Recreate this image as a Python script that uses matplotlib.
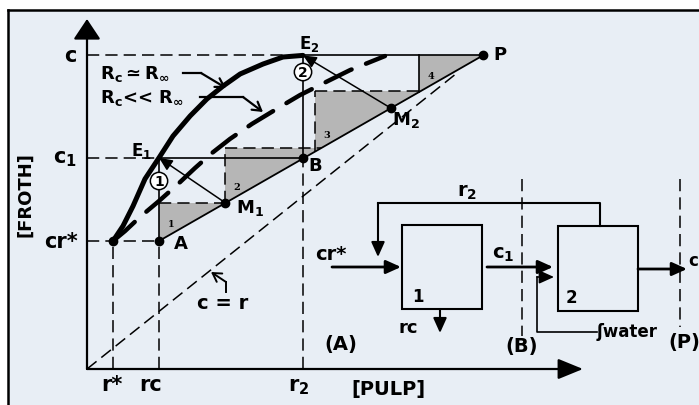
import numpy as np
import matplotlib.pyplot as plt
from matplotlib.patches import Polygon, Rectangle

plt.rcParams['font.family'] = ['DejaVu Sans']
plt.rcParams['font.weight'] = 'bold'
plt.rcParams['mathtext.fontset'] = 'dejavusans'

# concentrations: r = pulp (tailing side), c = froth (concentrate side)
r_star, r_c, r_2 = 0.065, 0.18, 0.54
c_rstar, c_1, c_top = 0.40, 0.66, 0.98

pt_start = (r_star, c_rstar)
pt_A = (r_c, c_rstar)
pt_B = (r_2, c_1)
pt_E1 = (r_c, c_1)
pt_E2 = (r_2, c_top)
pt_M1 = (0.345, 0.52)
pt_M2 = (0.76, 0.815)
pt_P = (0.99, c_top)

# equilibrium line for Rc ~ R_inf
eq_inf_r = [0.065, 0.09, 0.115, 0.145, 0.18, 0.215, 0.258, 0.30, 0.34, 0.383, 0.44, 0.49, 0.54]
eq_inf_c = [0.40, 0.447, 0.509, 0.594, 0.66, 0.728, 0.791, 0.844, 0.884, 0.922, 0.953, 0.975, 0.98]

# equilibrium line for Rc << R_inf
eq_low_r = [0.065, 0.095, 0.1325, 0.18, 0.2275, 0.27, 0.3125, 0.3575, 0.4125, 0.4825, 0.5325, 0.6025, 0.6575, 0.745]
eq_low_c = [0.40, 0.431, 0.475, 0.525, 0.578, 0.628, 0.675, 0.719, 0.766, 0.819, 0.856, 0.90, 0.934, 0.978]

# stages stepped off between the operating line and the lower curve
step_r = [0.18, 0.345, 0.57, 0.83]
step_top = [0.52, 0.69, 0.87, 0.98]
step_names = ['1', '2', '3', '4']

bg = '#e8eef5'
grey = '#b6b6b6'
dash = (0, (8, 4))
thin = 1.1

fig = plt.figure(figsize=(6.99, 4.06), dpi=100)

# --- page layer in pixel units: paper, frame, flowsheet, notes
ov = fig.add_axes([0, 0, 1, 1])
ov.set_xlim(0, 699)
ov.set_ylim(406, 0)
ov.axis('off')
ov.add_patch(Rectangle((8, 11), 691, 395, fc=bg, ec='none'))
ov.plot([8, 699], [11, 11], color='k', lw=1.8)
ov.plot([8, 8], [11, 406], color='k', lw=1.8)

def arrow(a, xy, xytext, style='-|>,head_length=1.0,head_width=0.45', lw=1.5, ms=9):
    a.annotate('', xy=xy, xytext=xytext, annotation_clip=False,
               arrowprops=dict(arrowstyle=style, color='k', lw=lw, mutation_scale=ms,
                               shrinkA=0, shrinkB=0))

# flotation cells
ov.add_patch(Rectangle((402, 226), 80, 84, fc='none', ec='k', lw=1.5))
ov.add_patch(Rectangle((558, 227), 80, 85, fc='none', ec='k', lw=1.5))
ov.text(418, 297, '1', fontsize=12, ha='center', va='center')
ov.text(571, 298, '2', fontsize=12, ha='center', va='center')

# recycle r2 back to cell 1
ov.plot([600, 600, 378], [227, 204, 204], color='k', lw=1.5)
arrow(ov, (378, 258), (378, 204))
ov.text(467, 192, r'$\mathbf{r_2}$', fontsize=14, ha='center', va='center')

# feed, transfer, tailing, water, product
arrow(ov, (401, 268), (332, 268), lw=2)
ov.text(331, 255, 'cr*', fontsize=14, ha='center', va='center')
arrow(ov, (553, 268), (487, 268), lw=2)
ov.text(503, 255, r'$\mathbf{c_1}$', fontsize=14, ha='center', va='center')
arrow(ov, (440, 334), (440, 310), lw=1.5)
ov.text(408, 328, 'rc', fontsize=13, ha='center', va='center')
ov.plot([597, 537, 537], [333, 333, 278], color='k', lw=1.2)
arrow(ov, (554, 278), (537, 278), lw=1.2)
ov.text(597, 332, 'ʃwater', fontsize=12, ha='left', va='center')
arrow(ov, (687, 270), (638, 270), lw=2)
ov.text(688, 261, 'c', fontsize=12, ha='left', va='center')

# section boundaries
ov.plot([522, 522], [180, 337], color='k', lw=thin, ls=dash)
ov.plot([680, 680], [180, 328], color='k', lw=thin, ls=dash)
ov.text(341, 345, '(A)', fontsize=14, ha='center', va='center')
ov.text(522, 347, '(B)', fontsize=14, ha='center', va='center')
ov.text(684, 343, '(P)', fontsize=14, ha='center', va='center')

# curve captions with leaders
ov.text(100, 74, r'$\mathbf{R_c \simeq R_\infty}$', fontsize=13, ha='left', va='center')
ov.plot([183, 201], [74, 74], color='k', lw=1.6)
arrow(ov, (226, 89), (201, 74), style='->,head_length=0.5,head_width=0.3', lw=1.6, ms=12)
ov.text(100, 98, r'$\mathbf{R_c}$<< $\mathbf{R_\infty}$', fontsize=13, ha='left', va='center')
ov.plot([200, 243], [98, 98], color='k', lw=1.6)
arrow(ov, (263, 113), (243, 98), style='->,head_length=0.5,head_width=0.3', lw=1.6, ms=12)

ov.text(223, 304, 'c = r', fontsize=14, ha='center', va='center')
ov.plot([226, 226], [293, 283], color='k', lw=1.4)
arrow(ov, (211, 273), (226, 283), style='->,head_length=0.5,head_width=0.3', lw=1.4, ms=12)

ov.text(25, 195, '[FROTH]', fontsize=13, rotation=90, ha='center', va='center')
ov.text(388, 390, '[PULP]', fontsize=14, ha='center', va='center')

# --- concentration diagram
ax = fig.add_axes([87 / 699, 36 / 406, 496 / 699, 350 / 406])
ax.set_xlim(0, 1.24)
ax.set_ylim(0, 350 / 320)
ax.axis('off')

arrow(ax, (1.24, 0), (0, 0), style='-|>,head_length=1.1,head_width=0.45', lw=1.6, ms=14)
arrow(ax, (0, 350 / 320), (0, 0), style='-|>,head_length=0.9,head_width=0.6', lw=1.6, ms=14)

# c = r diagonal
ax.plot([0, 0.93], [0, 0.93], color='k', lw=thin, ls=dash, clip_on=False)

# operating line A -> P
op_r = [pt_A[0], pt_P[0]]
op_c = [pt_A[1], pt_P[1]]

for i, (r0, top) in enumerate(zip(step_r, step_top)):
    bottom = np.interp(r0, op_r, op_c)
    r1 = np.interp(top, op_c, op_r)
    ax.add_patch(Polygon([(r0, bottom), (r0, top), (r1, top)], closed=True,
                         fc=grey, ec='none', zorder=1))
    if i in (1, 2):
        ax.plot([r0, r0], [bottom, top], color='k', lw=thin, ls=dash, zorder=2)
    if i == 3:
        ax.plot([r0, r0], [bottom, top], color='k', lw=1.2, zorder=2)
    if i < 3:
        ax.plot([r0, r1], [top, top], color='k', lw=thin, ls=dash, zorder=2)
    ax.annotate(step_names[i], (r0, bottom), xytext=(12, 17), textcoords='offset pixels',
                fontsize=7, family='DejaVu Serif', ha='center', va='center')

ax.plot(op_r, op_c, color='k', lw=1.3, zorder=3)

# guide lines to the axes
ax.plot([0, r_2], [c_top, c_top], color='k', lw=thin, ls=dash, clip_on=False)
ax.plot([r_2, pt_P[0]], [c_top, c_top], color='k', lw=1.2)
ax.plot([0, r_c], [c_1, c_1], color='k', lw=thin, ls=dash, clip_on=False)
ax.plot([r_c, r_2], [c_1, c_1], color='k', lw=1.2)
ax.plot([0, r_c], [c_rstar, c_rstar], color='k', lw=thin, ls=dash, clip_on=False)
ax.plot([r_star, r_star], [0, c_rstar], color='k', lw=thin, ls=dash, clip_on=False)
ax.plot([r_c, r_c], [0, c_rstar], color='k', lw=thin, ls=dash, clip_on=False)
ax.plot([r_2, r_2], [0, c_1], color='k', lw=thin, ls=dash, clip_on=False)

# stage balances: A -> E1 <- M1, B -> E2 <- M2
ax.plot([r_c, r_c], [c_rstar, c_1], color='k', lw=1.2)
ax.plot([r_2, r_2], [c_1, c_top], color='k', lw=1.2)
arrow(ax, pt_E1, pt_M1, lw=1.1, ms=8)
arrow(ax, pt_E2, pt_M2, lw=1.1, ms=8)

# equilibrium curves
ax.plot(eq_inf_r, eq_inf_c, color='k', lw=3.6, solid_capstyle='round',
        solid_joinstyle='round', zorder=4)
ax.plot(eq_low_r, eq_low_c, color='k', lw=3.2, ls=(0, (6.5, 3.5)),
        dash_capstyle='round', zorder=4)

pts = [pt_start, pt_A, pt_B, pt_M1, pt_M2, pt_P]
ax.plot([p[0] for p in pts], [p[1] for p in pts], 'o', color='k', ms=6, zorder=5)

# point labels
labels = [('A', pt_A, (22, -2), 13), ('B', pt_B, (12, -7), 13),
          (r'$\mathbf{E_1}$', pt_E1, (-18, 8), 12), (r'$\mathbf{E_2}$', pt_E2, (6, 12), 12),
          (r'$\mathbf{M_1}$', pt_M1, (25, -4), 13), (r'$\mathbf{M_2}$', pt_M2, (15, -11), 13),
          ('P', pt_P, (17, 1), 13)]
for txt, p, off, fs in labels:
    ax.annotate(txt, p, xytext=off, textcoords='offset pixels', fontsize=fs,
                ha='center', va='center', zorder=6)

# stage numbers on the balance lines
circ = dict(boxstyle='circle,pad=0.12', fc='white', ec='k', lw=1.1)
ax.text(r_c, 0.5875, '1', fontsize=10, ha='center', va='center', bbox=circ, zorder=6)
ax.text(r_2, 0.928, '2', fontsize=10, ha='center', va='center', bbox=circ, zorder=6)

# axis level labels
ax.annotate('c', (0, c_top), xytext=(-17, 0), textcoords='offset pixels', fontsize=15,
            ha='center', va='center')
ax.annotate(r'$\mathbf{c_1}$', (0, c_1), xytext=(-22, 0), textcoords='offset pixels',
            fontsize=15, ha='center', va='center')
ax.annotate('cr*', (0, c_rstar), xytext=(-26, 0), textcoords='offset pixels', fontsize=15,
            ha='center', va='center')
ax.annotate('r*', (r_star, 0), xytext=(-1, -15), textcoords='offset pixels', fontsize=15,
            ha='center', va='center')
ax.annotate('rc', (r_c, 0), xytext=(-8, -15), textcoords='offset pixels', fontsize=15,
            ha='center', va='center')
ax.annotate(r'$\mathbf{r_2}$', (r_2, 0), xytext=(-4, -17), textcoords='offset pixels',
            fontsize=15, ha='center', va='center')

fig.savefig('out.png', dpi=100, facecolor='white')
